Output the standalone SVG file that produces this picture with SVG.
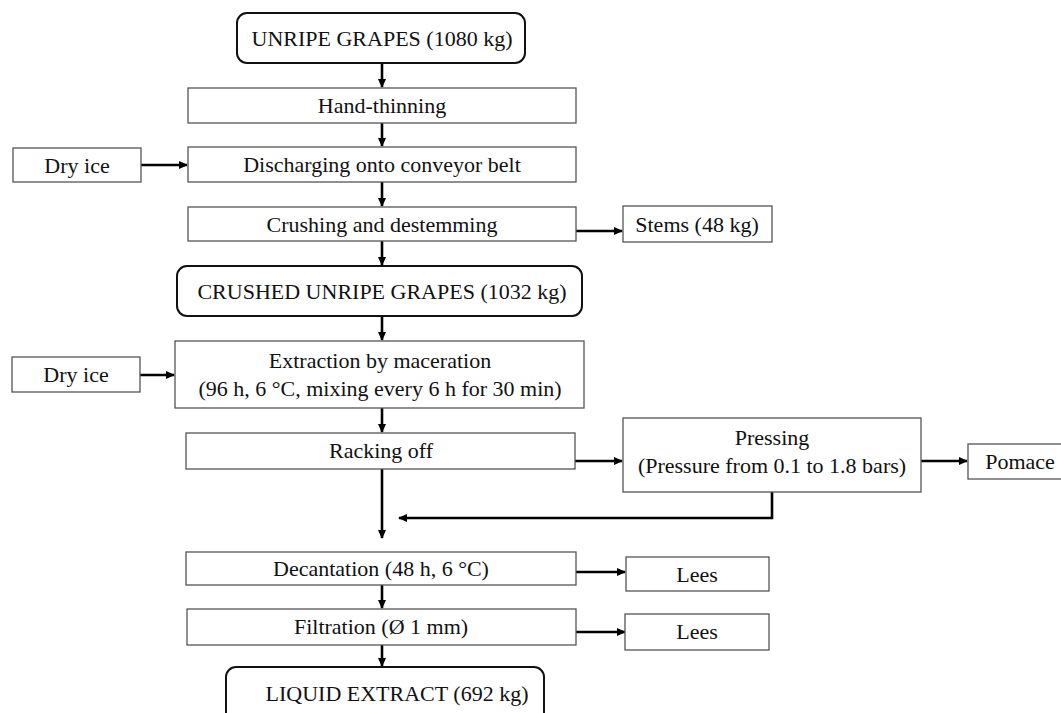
<svg xmlns="http://www.w3.org/2000/svg" width="1061" height="713" viewBox="0 0 1061 713">
<style>
.b{fill:#fff;stroke:#555;stroke-width:1.3}
.r{fill:#fff;stroke:#111;stroke-width:2}
.t{font-family:'Liberation Serif','Times New Roman',serif;font-size:22px;fill:#111;text-anchor:middle}
.c{stroke:#000;stroke-width:2.6;fill:none}
</style>
<defs>
<marker id="a" markerWidth="9" markerHeight="9" refX="8" refY="4.5" orient="auto" markerUnits="userSpaceOnUse"><path d="M0,0.5 L9,4.5 L0,8.5 Z" fill="#000"/></marker>
</defs>
<rect width="1061" height="713" fill="#fff"/>
<g id="connectors">
<path class="c" d="M382,63 V87" marker-end="url(#a)"/>
<path class="c" d="M382,123 V146" marker-end="url(#a)"/>
<path class="c" d="M141,165 H187" marker-end="url(#a)"/>
<path class="c" d="M382,182 V206" marker-end="url(#a)"/>
<path class="c" d="M576,231 H622" marker-end="url(#a)"/>
<path class="c" d="M382,241 V265" marker-end="url(#a)"/>
<path class="c" d="M382,316 V340" marker-end="url(#a)"/>
<path class="c" d="M140,375 H174" marker-end="url(#a)"/>
<path class="c" d="M382,408 V432" marker-end="url(#a)"/>
<path class="c" d="M575,461 H622" marker-end="url(#a)"/>
<path class="c" d="M921,461 H967" marker-end="url(#a)"/>
<path class="c" d="M382,469 V538" marker-end="url(#a)"/>
<path class="c" d="M772,492 V518 H399" marker-end="url(#a)"/>
<path class="c" d="M576,572 H625" marker-end="url(#a)"/>
<path class="c" d="M382,585 V608" marker-end="url(#a)"/>
<path class="c" d="M576,632 H625" marker-end="url(#a)"/>
<path class="c" d="M382,645 V666" marker-end="url(#a)"/>
</g>
<g id="unripe"><rect class="r" x="237" y="13" width="288" height="50" rx="10"/><text class="t" x="382" y="46">UNRIPE GRAPES (1080 kg)</text></g>
<g id="hand"><rect class="b" x="188" y="88" width="388" height="35"/><text class="t" x="382" y="113">Hand-thinning</text></g>
<g id="dry1"><rect class="b" x="13" y="148" width="128" height="34"/><text class="t" x="77" y="173">Dry ice</text></g>
<g id="discharging"><rect class="b" x="188" y="147" width="388" height="35"/><text class="t" x="382" y="172">Discharging onto conveyor belt</text></g>
<g id="crushing"><rect class="b" x="188" y="207" width="388" height="34"/><text class="t" x="382" y="232">Crushing and destemming</text></g>
<g id="stems"><rect class="b" x="623" y="206" width="149" height="36"/><text class="t" x="697" y="232">Stems (48 kg)</text></g>
<g id="crushed"><rect class="r" x="177" y="266" width="405" height="50" rx="10"/><text class="t" x="382" y="299">CRUSHED UNRIPE GRAPES (1032 kg)</text></g>
<g id="dry2"><rect class="b" x="12" y="357" width="128" height="35"/><text class="t" x="76" y="382">Dry ice</text></g>
<g id="extraction"><rect class="b" x="175" y="341" width="409" height="67"/><text class="t" x="380" y="368">Extraction by maceration</text><text class="t" x="380" y="396">(96 h, 6 °C, mixing every 6 h for 30 min)</text></g>
<g id="racking"><rect class="b" x="186" y="433" width="389" height="36"/><text class="t" x="381" y="458">Racking off</text></g>
<g id="pressing"><rect class="b" x="623" y="418" width="298" height="74"/><text class="t" x="772" y="445">Pressing</text><text class="t" x="772" y="473">(Pressure from 0.1 to 1.8 bars)</text></g>
<g id="pomace"><rect class="b" x="968" y="444" width="100" height="35"/><text class="t" x="1020" y="469">Pomace</text></g>
<g id="decantation"><rect class="b" x="186" y="552" width="390" height="33"/><text class="t" x="381" y="576">Decantation (48 h, 6 °C)</text></g>
<g id="lees1"><rect class="b" x="626" y="557" width="143" height="34"/><text class="t" x="697" y="582">Lees</text></g>
<g id="filtration"><rect class="b" x="187" y="609" width="389" height="36"/><text class="t" x="381" y="634">Filtration (Ø 1 mm)</text></g>
<g id="lees2"><rect class="b" x="625" y="614" width="144" height="36"/><text class="t" x="697" y="639">Lees</text></g>
<g id="liquid"><rect class="r" x="226" y="667" width="318" height="60" rx="10"/><text class="t" x="397" y="701">LIQUID EXTRACT (692 kg)</text></g>
</svg>
